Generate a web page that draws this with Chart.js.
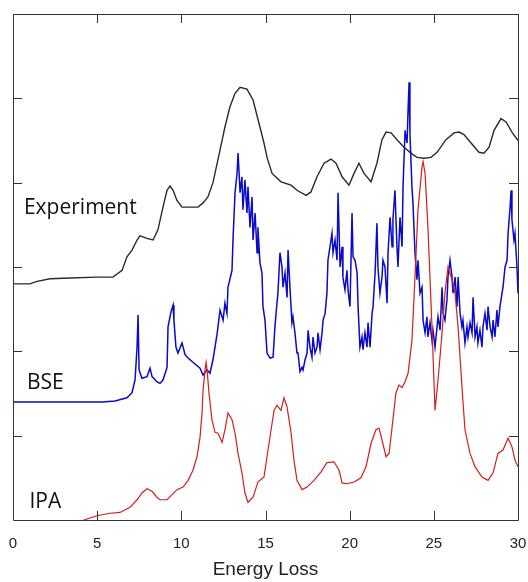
<!DOCTYPE html>
<html>
<head>
<meta charset="utf-8">
<script src="https://cdn.jsdelivr.net/npm/chart.js@4/dist/chart.umd.min.js"></script>
<style>
  html, body { margin: 0; padding: 0; background: #fff; }
  #c { display: block; }
</style>
</head>
<body>
<canvas id="c" width="528" height="582"></canvas>
<script>
// ---- data ----
const xTicks = [0, 5, 10, 15, 20, 25, 30];
const yTicks = [1, 2, 3, 4, 5];

const expX = [0, 1.0, 1.43, 2.2, 3.4, 5.0, 5.94, 6.48, 6.77, 7.07,
  7.37, 7.54, 7.96, 8.32, 8.61, 8.91, 9.15, 9.33, 9.51, 9.74,
  10.04, 10.52, 10.99, 11.29, 11.58, 11.88, 12.3, 12.59, 12.89, 13.19,
  13.49, 13.9, 14.26, 14.67, 14.91, 15.09, 15.39, 15.92, 16.52, 16.87,
  17.41, 17.7, 18.06, 18.48, 18.89, 19.19, 19.55, 19.96, 20.26, 20.55,
  20.85, 21.27, 21.62, 21.92, 22.16, 22.46, 22.81, 23.23, 23.64, 24.0,
  24.42, 24.83, 25.19, 25.72, 26.2, 26.5, 26.79, 27.21, 27.68, 27.98,
  28.28, 28.58, 28.99, 29.29, 29.64, 30.0];
const expY = [2.80, 2.80, 2.83, 2.86, 2.87, 2.88, 2.88, 2.96, 3.12, 3.20,
  3.32, 3.37, 3.34, 3.32, 3.44, 3.71, 3.91, 3.96, 3.91, 3.79,
  3.71, 3.71, 3.71, 3.76, 3.83, 4.00, 4.39, 4.66, 4.90, 5.06,
  5.13, 5.11, 4.98, 4.66, 4.47, 4.30, 4.11, 4.01, 3.97, 3.91,
  3.85, 3.89, 4.07, 4.23, 4.28, 4.23, 4.07, 3.97, 4.11, 4.23,
  4.11, 4.01, 4.23, 4.51, 4.60, 4.59, 4.51, 4.42, 4.35, 4.30,
  4.29, 4.30, 4.36, 4.51, 4.59, 4.60, 4.57, 4.47, 4.36, 4.35,
  4.42, 4.62, 4.76, 4.72, 4.60, 4.50];

const bseX = [0, 5.29, 6.06, 6.77, 7.07, 7.25, 7.37, 7.43, 7.49, 7.66,
  7.96, 8.14, 8.26, 8.55, 8.73, 8.91, 9.15, 9.21, 9.39, 9.51,
  9.56, 9.68, 9.80, 10.04, 10.22, 10.40, 10.69, 11.11, 11.29, 11.53,
  11.70, 11.88, 12.12, 12.30, 12.48, 12.59, 12.71, 12.77, 13.01, 13.07,
  13.19, 13.31, 13.37, 13.49, 13.60, 13.66, 13.78, 13.90, 13.96, 14.08,
  14.20, 14.26, 14.38, 14.50, 14.55, 14.67, 14.79, 14.85, 14.97, 15.09,
  15.27, 15.45, 15.56, 15.68, 15.74, 15.86, 15.98, 16.04, 16.16, 16.28,
  16.34, 16.46, 16.57, 16.63, 16.75, 16.87, 16.93, 17.05, 17.17, 17.23,
  17.35, 17.47, 17.53, 17.64, 17.76, 17.82, 17.94, 18.06, 18.12, 18.24,
  18.36, 18.42, 18.54, 18.65, 18.71, 18.83, 18.95, 19.01, 19.13, 19.25,
  19.31, 19.43, 19.55, 19.60, 19.72, 19.84, 19.90, 20.02, 20.14, 20.20,
  20.32, 20.44, 20.50, 20.61, 20.73, 20.79, 20.91, 21.03, 21.09, 21.21,
  21.33, 21.39, 21.51, 21.62, 21.68, 21.80, 21.92, 21.98, 22.10, 22.22,
  22.28, 22.40, 22.52, 22.57, 22.69, 22.81, 22.87, 22.99, 23.11, 23.17,
  23.29, 23.41, 23.47, 23.53, 23.58, 23.70, 23.76, 23.88, 24.00, 24.06,
  24.18, 24.30, 24.36, 24.48, 24.59, 24.65, 24.77, 24.89, 24.95, 25.07,
  25.19, 25.25, 25.37, 25.49, 25.55, 25.66, 25.78, 25.84, 25.96, 26.08,
  26.14, 26.26, 26.38, 26.44, 26.56, 26.67, 26.73, 26.85, 26.97, 27.03,
  27.15, 27.27, 27.33, 27.45, 27.56, 27.62, 27.74, 27.86, 27.92, 28.04,
  28.16, 28.22, 28.34, 28.46, 28.52, 28.63, 28.75, 28.81, 28.93, 29.05,
  29.11, 29.23, 29.35, 29.41, 29.53, 29.59, 29.64, 29.76, 29.82, 29.94,
  30.00];
const bseY = [1.40, 1.40, 1.41, 1.45, 1.51, 1.66, 2.05, 2.43, 1.78, 1.68,
  1.70, 1.80, 1.70, 1.64, 1.62, 1.66, 1.81, 2.29, 2.47, 2.55,
  2.37, 2.05, 1.98, 2.10, 1.96, 1.92, 1.87, 1.80, 1.72, 1.78,
  1.74, 1.90, 2.20, 2.49, 2.37, 2.57, 2.45, 2.76, 2.96, 3.32,
  3.88, 4.11, 4.35, 3.88, 4.07, 3.68, 4.03, 3.64, 3.95, 3.47,
  3.83, 3.32, 3.64, 3.17, 3.47, 3.05, 2.93, 2.53, 2.37, 1.98,
  1.92, 1.93, 2.29, 2.57, 2.69, 3.17, 3.00, 2.76, 2.93, 2.64,
  3.20, 2.73, 2.34, 2.41, 2.22, 1.98, 1.98, 1.76, 1.81, 1.78,
  1.90, 1.98, 2.25, 2.05, 1.93, 2.17, 1.98, 2.05, 2.22, 2.02,
  2.22, 2.37, 2.45, 2.69, 3.08, 3.24, 3.40, 3.17, 3.32, 3.08,
  3.88, 3.00, 3.24, 2.88, 2.73, 2.96, 2.73, 2.53, 3.64, 3.12,
  3.08, 2.93, 2.53, 2.05, 2.17, 2.02, 2.22, 2.05, 2.34, 2.05,
  2.45, 2.53, 2.93, 3.52, 3.00, 2.69, 2.88, 3.08, 3.00, 2.57,
  3.17, 3.59, 3.24, 3.56, 3.91, 3.24, 3.00, 3.59, 3.24, 3.95,
  4.62, 4.47, 4.86, 5.19, 4.59, 3.95, 3.76, 3.17, 2.85, 3.08,
  2.69, 2.76, 2.37, 2.22, 2.41, 2.17, 2.34, 2.13, 2.25, 2.05,
  2.29, 2.41, 2.25, 2.76, 2.45, 2.37, 2.61, 2.88, 3.08, 2.88,
  2.69, 2.88, 2.53, 2.88, 2.45, 2.29, 2.37, 2.10, 2.29, 2.17,
  2.34, 2.22, 2.64, 2.17, 2.29, 2.10, 2.25, 2.05, 2.29, 2.45,
  2.25, 2.53, 2.29, 2.17, 2.37, 2.17, 2.49, 2.29, 2.53, 2.69,
  2.76, 3.00, 3.08, 3.40, 3.71, 3.91, 3.56, 3.32, 3.40, 3.00,
  2.69];

const ipaX = [4.2, 4.99, 5.76, 6.36, 6.95, 7.37, 7.66, 7.96, 8.26, 8.55,
  8.73, 9.15, 9.45, 9.74, 10.10, 10.40, 10.69, 10.93, 11.11, 11.23,
  11.29, 11.41, 11.47, 11.53, 11.64, 11.82, 12.00, 12.18, 12.42, 12.59,
  12.77, 13.01, 13.19, 13.37, 13.60, 13.78, 13.96, 14.26, 14.55, 14.91,
  15.09, 15.33, 15.51, 15.68, 15.92, 16.10, 16.28, 16.52, 16.69, 16.87,
  17.17, 17.47, 17.88, 18.30, 18.65, 19.07, 19.37, 19.55, 19.84, 20.26,
  20.67, 20.97, 21.27, 21.56, 21.74, 21.92, 22.16, 22.34, 22.52, 22.75,
  22.93, 23.11, 23.29, 23.47, 23.70, 23.88, 24.06, 24.30, 24.36, 24.48,
  24.65, 24.89, 25.07, 25.25, 25.49, 25.66, 25.84, 26.08, 26.26, 26.44,
  26.67, 26.85, 27.15, 27.45, 27.86, 28.22, 28.52, 28.81, 29.11, 29.41,
  29.64, 29.82, 30.00];
const ipaY = [0.00, 0.05, 0.08, 0.09, 0.15, 0.24, 0.32, 0.37, 0.34, 0.27,
  0.24, 0.24, 0.30, 0.36, 0.39, 0.47, 0.59, 0.75, 0.98, 1.27,
  1.54, 1.78, 1.87, 1.78, 1.51, 1.19, 1.04, 1.03, 0.92, 1.07,
  1.27, 1.19, 1.03, 0.79, 0.56, 0.32, 0.21, 0.27, 0.45, 0.51,
  0.75, 1.07, 1.30, 1.36, 1.30, 1.45, 1.34, 1.03, 0.71, 0.47,
  0.36, 0.39, 0.47, 0.57, 0.68, 0.69, 0.59, 0.44, 0.43, 0.45,
  0.50, 0.63, 0.91, 1.07, 1.09, 0.95, 0.75, 0.79, 1.10, 1.51,
  1.60, 1.57, 1.64, 1.74, 2.13, 2.88, 3.68, 4.19, 4.25, 4.11,
  3.47, 2.29, 1.30, 1.66, 2.22, 2.69, 3.00, 2.85, 2.69, 2.29,
  1.58, 1.07, 0.79, 0.63, 0.51, 0.47, 0.56, 0.79, 0.83, 0.97,
  0.87, 0.71, 0.63];

const seriesNames = ['Experiment', 'BSE', 'IPA'];

// ---- build chart ----
function pts(xs, ys) { return xs.map((x, i) => ({ x: x, y: ys[i] })); }

const seriesLabels = {
  id: 'seriesLabels',
  afterDatasetsDraw(chart, args, opts) {
    const ctx = chart.ctx, sx = chart.scales.x, sy = chart.scales.y;
    ctx.save();
    ctx.font = opts.font;
    ctx.fillStyle = opts.color;
    ctx.textAlign = 'left';
    ctx.textBaseline = 'alphabetic';
    opts.items.forEach(it => {
      ctx.fillText(it.text, sx.getPixelForValue(it.x), sy.getPixelForValue(it.y));
    });
    ctx.restore();
  }
};

const frameTicks = {
  id: 'frameTicks',
  afterDatasetsDraw(chart, args, opts) {
    const ctx = chart.ctx, a = chart.chartArea, sx = chart.scales.x, sy = chart.scales.y;
    const L = opts.len;
    ctx.save();
    ctx.strokeStyle = opts.color;
    ctx.lineWidth = 1;
    ctx.beginPath();
    ctx.rect(Math.round(a.left) + 0.5, Math.round(a.top) + 0.5,
             Math.round(a.right - a.left), Math.round(a.bottom - a.top));
    xTicks.forEach(v => {
      const p = Math.round(sx.getPixelForValue(v)) + 0.5;
      ctx.moveTo(p, a.bottom); ctx.lineTo(p, a.bottom - L);
      ctx.moveTo(p, a.top); ctx.lineTo(p, a.top + L);
    });
    yTicks.forEach(v => {
      const p = Math.round(sy.getPixelForValue(v)) + 0.5;
      ctx.moveTo(a.left, p); ctx.lineTo(a.left + L, p);
      ctx.moveTo(a.right, p); ctx.lineTo(a.right - L, p);
    });
    ctx.stroke();
    ctx.restore();
  }
};

new Chart(document.getElementById('c'), {
  type: 'line',
  data: {
    datasets: [
      { label: seriesNames[2], data: pts(ipaX, ipaY), borderColor: '#d21e1e', borderWidth: 1.2 },
      { label: seriesNames[1], data: pts(bseX, bseY), borderColor: '#0a0ac8', borderWidth: 1.5 },
      { label: seriesNames[0], data: pts(expX, expY), borderColor: '#2a2a2a', borderWidth: 1.4 }
    ]
  },
  options: {
    responsive: false,
    animation: false,
    devicePixelRatio: 1,
    elements: { point: { radius: 0 }, line: { tension: 0, fill: false } },
    layout: { padding: { left: 13, right: 10, top: 14, bottom: 0 } },
    plugins: {
      legend: { display: false },
      tooltip: { enabled: false },
      seriesLabels: {
        font: '21px "Open Sans"',
        color: '#111',
        items: [
          { text: seriesNames[0], x: 0.65, y: 3.63 },
          { text: seriesNames[1], x: 0.83, y: 1.55 },
          { text: seriesNames[2], x: 0.98, y: 0.14 }
        ]
      },
      frameTicks: { len: 9, color: '#333' }
    },
    scales: {
      x: {
        type: 'linear', min: 0, max: 30,
        afterBuildTicks: s => { s.ticks = xTicks.map(v => ({ value: v })); },
        afterFit: s => { s.height = 62; },
        grid: { display: false, drawTicks: true, tickLength: 15 },
        border: { display: false },
        ticks: { padding: 0, maxRotation: 0, color: '#222',
                 font: { family: '"Liberation Sans", Arial, sans-serif', size: 15 } },
        title: { display: true, text: 'Energy Loss', color: '#222',
                 font: { family: '"Liberation Sans", Arial, sans-serif', size: 19 },
                 padding: { top: 5, bottom: 1 } }
      },
      y: { type: 'linear', min: 0, max: 6, display: false }
    }
  },
  plugins: [seriesLabels, frameTicks]
});
</script>
</body>
</html>
